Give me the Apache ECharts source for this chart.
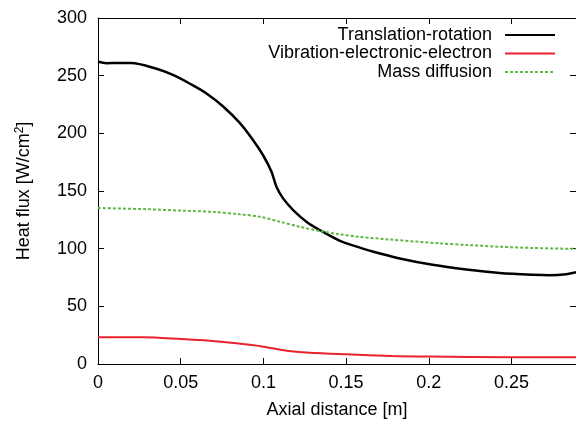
<!DOCTYPE html>
<html>
<head>
<meta charset="utf-8">
<script src="https://cdn.jsdelivr.net/npm/echarts@6/dist/echarts.min.js"></script>
<style>
html,body{margin:0;padding:0;background:#fff;}
#chart{width:576px;height:426px;}
</style>
</head>
<body>
<div id="chart"></div>
<script>
// axial distance [m] / heat flux [W/cm2]
var distTR=[0,0.005,0.012,0.02,0.0354,0.0453,0.0556,0.0656,0.0755,0.0857,0.0938,0.0998,0.1049,0.1079,0.1119,0.118,0.126,0.134,0.146,0.157,0.166,0.1824,0.2023,0.2226,0.2428,0.2627,0.273,0.283,0.289];
var fluxTR=[262,260.8,261,261,256,250.6,243,234.6,223.5,209,194,181,166.7,153.7,143.6,133.5,123.4,116.2,107,101.5,97.5,91.5,86,82,79,77.4,77,77.8,79.5];

var distVE=[0,0.027,0.05,0.0676,0.0837,0.1,0.114,0.128,0.15,0.178,0.2,0.25,0.289];
var fluxVE=[23.1,23.1,21.7,20.2,17.9,15,11.5,9.8,8.4,6.9,6.4,5.8,5.8];

var distMD=[0,0.03,0.05,0.07,0.0857,0.0978,0.11,0.122,0.134,0.146,0.157,0.176,0.2065,0.223,0.243,0.263,0.289];
var fluxMD=[135.3,134.2,133,131.8,129.8,127.7,123.4,119,115.3,112.5,110.4,108,104.6,103.2,101.7,100.6,99.8];

var names=["Translation-rotation","Vibration-electronic-electron","Mass diffusion"];
var xTicks=[0,0.05,0.1,0.15,0.2,0.25];

var FONT="Liberation Sans";
var chart=echarts.init(document.getElementById("chart"),null,{renderer:"canvas"});

function pairs(xs,ys){
	return xs.map((x,i)=>[x,ys[i]]);
}

var tickStyle={show:true,inside:true,length:6,lineStyle:{color:"#000",width:1}};
var lineAxis={show:true,onZero:false,lineStyle:{color:"#000",width:1}};

var option={
	animation:false,
	grid:{left:98,right:0,top:18,bottom:62,containLabel:false},
	legend:{
		orient:"vertical",
		right:15,
		top:21,
		align:"right",
		itemWidth:50,
		itemHeight:14,
		itemGap:0.5,
		data:names,
		itemStyle:{opacity:0},
		textStyle:{fontFamily:FONT,fontSize:18,lineHeight:18,color:"#000",padding:[0,8,0,0]}
	},
	xAxis:[
		{
			type:"value",min:0,max:0.289,interval:0.05,
			position:"bottom",
			axisLine:lineAxis,axisTick:tickStyle,splitLine:{show:false},
			axisLabel:{fontFamily:FONT,fontSize:18,color:"#000",margin:10,showMaxLabel:false,
				formatter:function(v){return xTicks.indexOf(Math.round(v*100)/100)>=0?String(Math.round(v*100)/100):"";}},
			name:"Axial distance [m]",nameLocation:"middle",nameGap:37,
			nameTextStyle:{fontFamily:FONT,fontSize:18,color:"#000",verticalAlign:"top"}
		},
		{
			type:"value",min:0,max:0.289,interval:0.05,
			position:"top",
			axisLine:lineAxis,axisTick:tickStyle,axisLabel:{show:false},splitLine:{show:false}
		}
	],
	yAxis:[
		{
			type:"value",min:0,max:300,interval:50,
			position:"left",
			axisLine:lineAxis,axisTick:tickStyle,splitLine:{show:false},
			axisLabel:{fontFamily:FONT,fontSize:18,color:"#000",margin:11},
			name:"Heat flux [W/cm{sup|2}]",nameLocation:"middle",nameGap:64,
			nameTextStyle:{fontFamily:FONT,fontSize:18,color:"#000",
				rich:{sup:{fontFamily:FONT,fontSize:12,color:"#000",verticalAlign:"top",padding:[0,0,8,0]}}}
		},
		{
			type:"value",min:0,max:300,interval:50,
			position:"right",
			axisLine:lineAxis,axisTick:tickStyle,axisLabel:{show:false},splitLine:{show:false}
		}
	],
	series:[
		{
			name:names[0],type:"line",data:pairs(distTR,fluxTR),
			smooth:0.3,symbol:"none",
			lineStyle:{color:"#000",width:2.5},itemStyle:{color:"#000"}
		},
		{
			name:names[1],type:"line",data:pairs(distVE,fluxVE),
			smooth:0.3,symbol:"none",
			lineStyle:{color:"#e8232b",width:2},itemStyle:{color:"#e8232b"}
		},
		{
			name:names[2],type:"line",data:pairs(distMD,fluxMD),
			smooth:0.3,symbol:"none",
			lineStyle:{color:"#5fb846",width:2,type:[3,2]},itemStyle:{color:"#5fb846"}
		}
	]
};
chart.setOption(option);
</script>
</body>
</html>
